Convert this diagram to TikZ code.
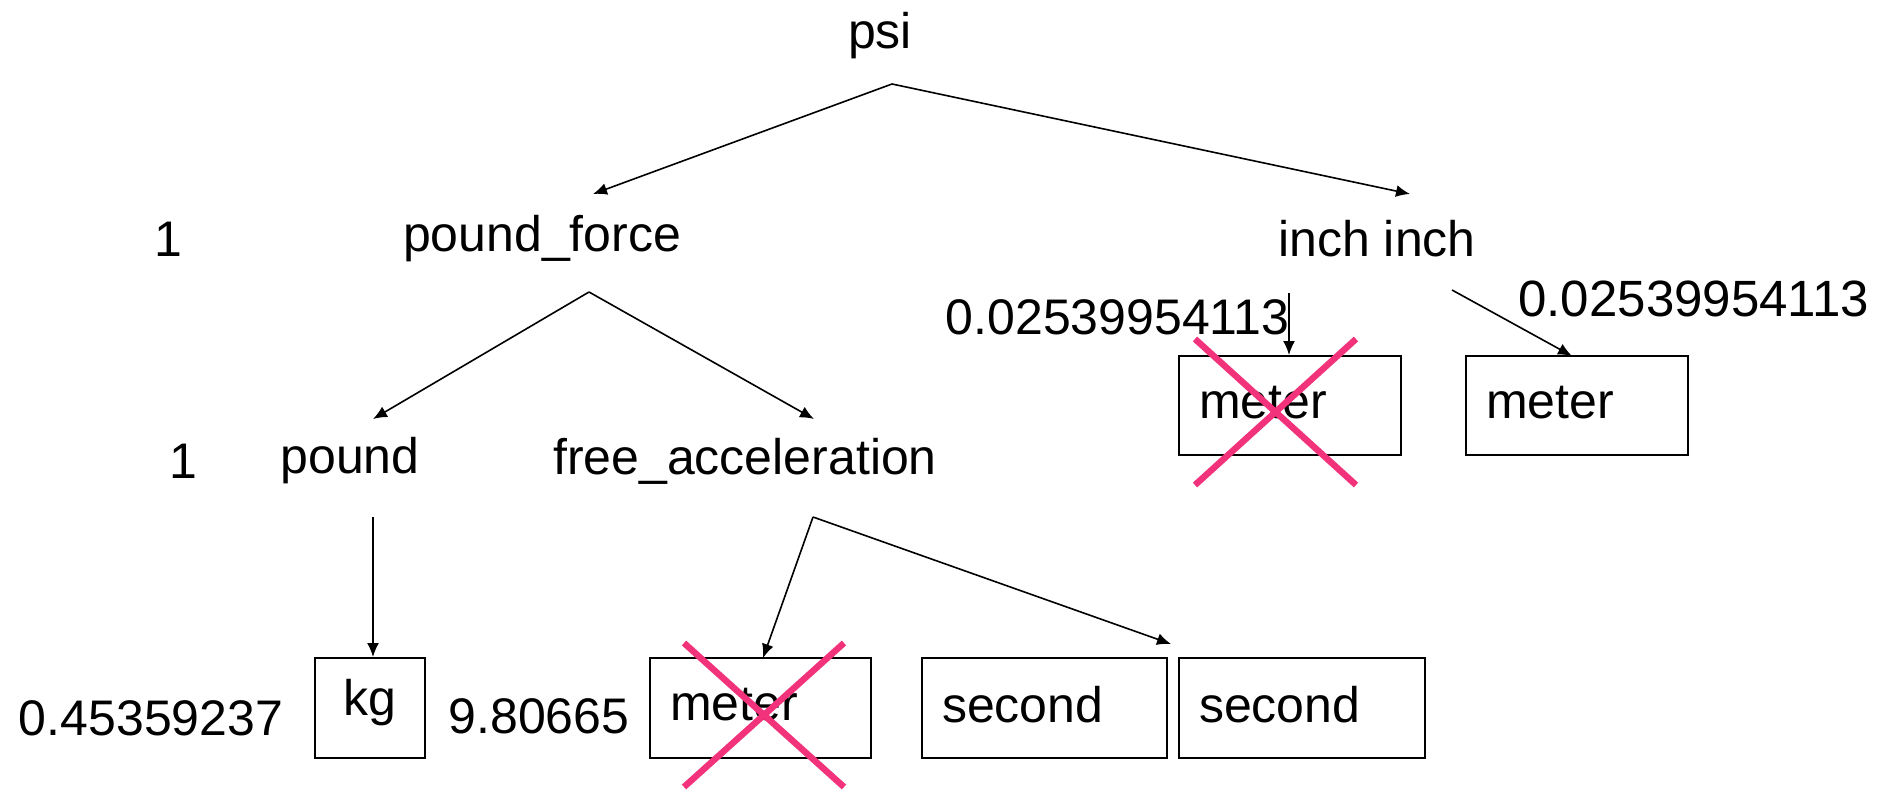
\documentclass[tikz,border=0pt]{standalone}
\usepackage{fontspec}
\setmainfont{Liberation Sans}
\usetikzlibrary{arrows.meta}
\definecolor{xpink}{RGB}{242,50,122}
\tikzset{
  lbl/.style={inner sep=0pt, font=\fontsize{25}{30}\selectfont},
  arr/.style={line width=0.8pt, -{Latex[length=7pt,width=6pt]}},
  ubox/.style={draw, line width=1pt, inner xsep=10pt, inner ysep=0pt, align=left, font=\fontsize{25}{30}\selectfont},
  cross/.style={draw=xpink, line width=3.2pt}
}
\begin{document}
\begin{tikzpicture}[x=0.5pt,y=-0.5pt]
\clip (0,0) rectangle (1877,791);
\fill[white] (0,0) rectangle (1877,791);
% texts
\node[lbl] (psi) at (880,36) {psi};
\node[lbl] (one1) at (168,239) {1};
\node[lbl] (pf) at (542,239) {pound\_force};
\node[lbl] (ii) at (1377,239) {inch inch};
\node[lbl] (one2) at (183,461) {1};
\node[lbl] (pd) at (350,461) {pound};
\node[lbl] (fa) at (745,461) {free\_acceleration};
\node[lbl, anchor=east] (cL) at (1290,317) {0.02539954113};
\node[lbl, anchor=west, font=\fontsize{25.5}{30}\selectfont] (cR) at (1518,299) {0.02539954113};
\node[lbl] (c3) at (151,718) {0.45359237};
\node[lbl] (c4) at (539,716) {9.80665};
% boxes
\node[ubox, text width=91pt, minimum height=49.5pt] (m1) at (1290,405.5) {\raisebox{3.5pt}{meter}};
\node[ubox, text width=91pt, minimum height=49.5pt] (m2) at (1577,405.5) {\raisebox{3.5pt}{meter}};
\node[ubox, align=center, text width=35pt, minimum height=50pt] (kg) at (370,708) {\raisebox{11pt}{kg}};
\node[ubox, text width=90.5pt, minimum height=50pt] (m3) at (760.5,708) {\raisebox{3.5pt}{meter}};
\node[ubox, text width=102.5pt, minimum height=50pt] (s1) at (1044.5,708) {\raisebox{3.5pt}{second}};
\node[ubox, text width=103pt, minimum height=50pt] (s2) at (1302,708) {\raisebox{3.5pt}{second}};
% connector points
\coordinate (psiA) at (892,84);
\coordinate (pfT) at (593,194);
\coordinate (iiT) at (1410,194);
\coordinate (pfA) at (589,292);
\coordinate (pdT) at (373,419);
\coordinate (faT) at (814,419);
\coordinate (iiA1) at (1289,293);
\coordinate (iiA2) at (1452,290);
\coordinate (pdA) at (373,517);
\coordinate (faA) at (813,517);
\coordinate (m2T) at (1572,356);
\coordinate (m3T) at (763,658);
\coordinate (s1T) at (1171,644);
% connectors
\draw[arr] (psiA) -- (pfT);
\draw[arr] (psiA) -- (iiT);
\draw[arr] (pfA) -- (pdT);
\draw[arr] (pfA) -- (faT);
\draw[arr] (iiA1) -- (iiA1 |- m1.north);
\draw[arr] (iiA2) -- (m2T);
\draw[arr] (pdA) -- (pdA |- kg.north);
\draw[arr] (faA) -- (m3T);
\draw[arr] (faA) -- (s1T);
% crosses
\draw[cross] (1195,339) -- (1356,485);
\draw[cross] (1356,339) -- (1195,485);
\draw[cross] (684,643) -- (844,787);
\draw[cross] (844,643) -- (684,787);
\end{tikzpicture}
\end{document}
